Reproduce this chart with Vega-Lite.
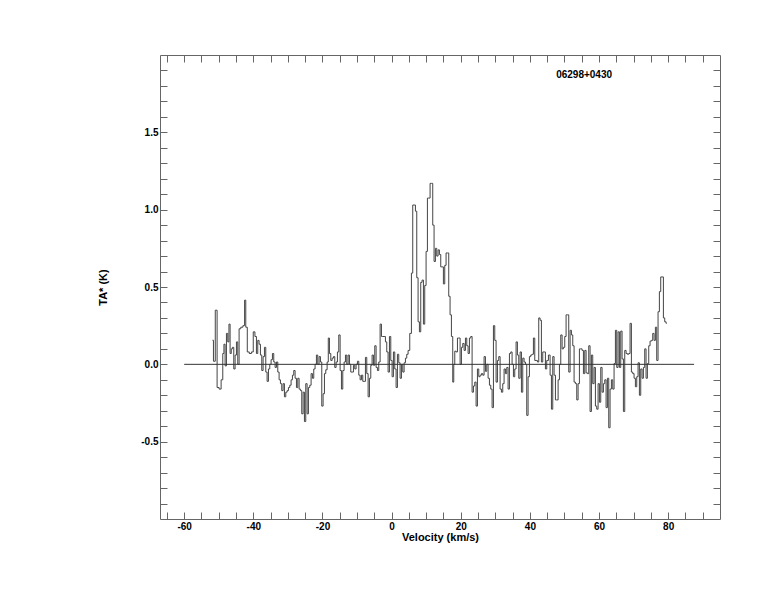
{
  "$schema": "https://vega.github.io/schema/vega-lite/v6.json",
  "width": 560,
  "height": 464,
  "autosize": "none",
  "padding": {"left": 160, "top": 55, "right": 54, "bottom": 93},
  "background": "white",
  "config": {
    "view": {"stroke": "#666", "strokeWidth": 1},
    "font": "Liberation Sans",
    "axis": {
      "grid": false, "domain": false, "tickColor": "#666", "tickSize": -7, "tickWidth": 1,
      "labelFont": "Liberation Sans", "labelFontWeight": "bold", "labelFontSize": 10, "labelColor": "#000",
      "titleFont": "Liberation Sans", "titleFontWeight": "bold", "titleFontSize": 11, "titleColor": "#000",
      "labelOverlap": false, "labelFlush": false
    }
  },
  "layer": [
    {
      "data": {"values": [
        {"v": -51.83, "t": 0.156}, {"v": -51.25, "t": 0.02}, {"v": -50.77, "t": 0.35}, {"v": -50.19, "t": -0.15},
        {"v": -49.61, "t": -0.16}, {"v": -49.03, "t": -0.10}, {"v": -48.65, "t": 0.07}, {"v": -48.36, "t": 0.13},
        {"v": -47.97, "t": -0.01}, {"v": -47.59, "t": 0.20}, {"v": -47.20, "t": 0.145}, {"v": -46.91, "t": 0.26},
        {"v": -46.53, "t": 0.07}, {"v": -46.24, "t": 0.10}, {"v": -45.85, "t": 0.11}, {"v": -45.47, "t": -0.03},
        {"v": -45.08, "t": 0.06}, {"v": -44.69, "t": 0.145}, {"v": -44.31, "t": 0.0}, {"v": -43.92, "t": 0.23},
        {"v": -43.35, "t": 0.24}, {"v": -42.67, "t": 0.25}, {"v": -42.38, "t": 0.415}, {"v": -41.99, "t": 0.24},
        {"v": -41.51, "t": 0.08}, {"v": -40.84, "t": 0.07}, {"v": -40.26, "t": 0.08}, {"v": -39.78, "t": 0.21},
        {"v": -39.30, "t": 0.18}, {"v": -38.91, "t": 0.07}, {"v": -38.53, "t": 0.155}, {"v": -38.14, "t": 0.13},
        {"v": -37.75, "t": 0.06}, {"v": -37.37, "t": -0.04}, {"v": -36.98, "t": 0.05}, {"v": -36.59, "t": 0.11},
        {"v": -36.21, "t": -0.05}, {"v": -35.82, "t": -0.11}, {"v": -35.44, "t": -0.03}, {"v": -35.05, "t": 0.0},
        {"v": -34.67, "t": 0.03}, {"v": -34.28, "t": 0.07}, {"v": -33.90, "t": 0.015}, {"v": -33.51, "t": -0.02},
        {"v": -33.12, "t": 0.015}, {"v": -32.74, "t": -0.05}, {"v": -32.35, "t": -0.10}, {"v": -31.97, "t": -0.125},
        {"v": -31.58, "t": -0.17}, {"v": -31.20, "t": -0.125}, {"v": -30.81, "t": -0.21}, {"v": -30.42, "t": -0.18},
        {"v": -30.04, "t": -0.17}, {"v": -29.65, "t": -0.15}, {"v": -29.27, "t": -0.135}, {"v": -28.88, "t": -0.10},
        {"v": -28.50, "t": -0.07}, {"v": -28.11, "t": -0.04}, {"v": -27.72, "t": -0.09}, {"v": -27.34, "t": -0.15},
        {"v": -26.95, "t": -0.09}, {"v": -26.57, "t": -0.16}, {"v": -26.18, "t": -0.17}, {"v": -25.80, "t": -0.32},
        {"v": -25.41, "t": -0.18}, {"v": -25.03, "t": -0.37}, {"v": -24.64, "t": -0.125}, {"v": -24.25, "t": -0.32},
        {"v": -23.87, "t": -0.15}, {"v": -23.48, "t": -0.135}, {"v": -23.10, "t": -0.06}, {"v": -22.71, "t": -0.09},
        {"v": -22.33, "t": -0.03}, {"v": -21.94, "t": 0.0}, {"v": -21.56, "t": 0.06}, {"v": -21.17, "t": 0.0},
        {"v": -20.79, "t": 0.05}, {"v": -20.39, "t": 0.015}, {"v": -20.01, "t": -0.27}, {"v": -19.62, "t": -0.19},
        {"v": -19.24, "t": -0.06}, {"v": -18.85, "t": -0.035}, {"v": -18.46, "t": 0.015}, {"v": -18.17, "t": 0.17},
        {"v": -17.79, "t": 0.07}, {"v": -17.40, "t": 0.025}, {"v": -17.02, "t": 0.04}, {"v": -16.63, "t": 0.05},
        {"v": -16.25, "t": -0.02}, {"v": -15.86, "t": 0.015}, {"v": -15.48, "t": 0.08}, {"v": -15.09, "t": 0.19},
        {"v": -14.70, "t": -0.04}, {"v": -14.32, "t": -0.16}, {"v": -13.93, "t": -0.04}, {"v": -13.55, "t": 0.015},
        {"v": -13.16, "t": 0.06}, {"v": -12.78, "t": 0.0}, {"v": -12.39, "t": 0.06}, {"v": -12.00, "t": 0.0},
        {"v": -11.62, "t": -0.05}, {"v": -11.23, "t": -0.05}, {"v": -10.85, "t": -0.006}, {"v": -10.46, "t": -0.03},
        {"v": -10.08, "t": 0.0}, {"v": -9.69, "t": 0.02}, {"v": -9.30, "t": -0.07}, {"v": -8.92, "t": -0.10},
        {"v": -8.53, "t": -0.07}, {"v": -8.15, "t": -0.11}, {"v": -7.76, "t": -0.11}, {"v": -7.38, "t": 0.045},
        {"v": -6.99, "t": -0.06}, {"v": -6.60, "t": -0.21}, {"v": -6.22, "t": -0.09}, {"v": -5.83, "t": -0.006},
        {"v": -5.45, "t": 0.06}, {"v": -5.06, "t": -0.006}, {"v": -4.68, "t": 0.12}, {"v": -4.29, "t": -0.02},
        {"v": -3.91, "t": -0.04}, {"v": -3.52, "t": 0.015}, {"v": -3.13, "t": 0.26}, {"v": -2.75, "t": 0.18},
        {"v": -2.36, "t": 0.18}, {"v": -1.98, "t": 0.18}, {"v": -1.59, "t": 0.145}, {"v": -1.21, "t": 0.08},
        {"v": -0.82, "t": -0.05}, {"v": -0.43, "t": 0.18}, {"v": -0.05, "t": 0.025}, {"v": 0.34, "t": -0.08},
        {"v": 0.72, "t": 0.08}, {"v": 1.11, "t": -0.03}, {"v": 1.49, "t": -0.15}, {"v": 1.88, "t": 0.065},
        {"v": 2.26, "t": 0.01}, {"v": 2.65, "t": -0.09}, {"v": 3.04, "t": 0.0}, {"v": 3.42, "t": -0.05},
        {"v": 3.81, "t": 0.01}, {"v": 4.19, "t": 0.04}, {"v": 4.58, "t": 0.065}, {"v": 4.96, "t": 0.09},
        {"v": 5.54, "t": 0.2}, {"v": 5.92, "t": 0.59}, {"v": 6.31, "t": 1.03}, {"v": 6.70, "t": 1.03},
        {"v": 7.08, "t": 0.99}, {"v": 7.47, "t": 0.56}, {"v": 7.85, "t": 0.275}, {"v": 8.24, "t": 0.21},
        {"v": 8.62, "t": 0.53}, {"v": 9.01, "t": 0.545}, {"v": 9.39, "t": 0.26}, {"v": 9.78, "t": 0.51},
        {"v": 10.17, "t": 0.73}, {"v": 10.55, "t": 1.075}, {"v": 10.94, "t": 1.075}, {"v": 11.32, "t": 1.17},
        {"v": 11.71, "t": 1.17}, {"v": 12.09, "t": 0.90}, {"v": 12.48, "t": 0.665}, {"v": 12.87, "t": 0.75},
        {"v": 13.25, "t": 0.70}, {"v": 13.64, "t": 0.74}, {"v": 14.02, "t": 0.71}, {"v": 14.41, "t": 0.63},
        {"v": 14.79, "t": 0.63}, {"v": 15.18, "t": 0.52}, {"v": 15.56, "t": 0.64}, {"v": 15.95, "t": 0.72},
        {"v": 16.34, "t": 0.72}, {"v": 16.72, "t": 0.44}, {"v": 17.11, "t": 0.32}, {"v": 17.49, "t": 0.18},
        {"v": 17.88, "t": -0.115}, {"v": 18.08, "t": 0.0}, {"v": 18.47, "t": 0.085}, {"v": 18.85, "t": 0.08},
        {"v": 19.24, "t": 0.17}, {"v": 19.62, "t": 0.17}, {"v": 20.01, "t": 0.0}, {"v": 20.39, "t": 0.11},
        {"v": 20.78, "t": 0.135}, {"v": 21.17, "t": 0.09}, {"v": 21.55, "t": 0.17}, {"v": 21.94, "t": 0.12},
        {"v": 22.32, "t": 0.07}, {"v": 22.71, "t": 0.17}, {"v": 23.09, "t": 0.18}, {"v": 23.48, "t": -0.18},
        {"v": 23.87, "t": -0.14}, {"v": 24.25, "t": -0.115}, {"v": 24.64, "t": -0.27}, {"v": 25.02, "t": -0.03},
        {"v": 25.41, "t": -0.08}, {"v": 25.79, "t": -0.07}, {"v": 26.18, "t": -0.06}, {"v": 26.56, "t": -0.07},
        {"v": 26.95, "t": 0.05}, {"v": 27.34, "t": -0.045}, {"v": 27.72, "t": 0.0}, {"v": 28.11, "t": -0.09},
        {"v": 28.49, "t": -0.135}, {"v": 28.88, "t": -0.16}, {"v": 29.26, "t": -0.28}, {"v": 29.65, "t": 0.25},
        {"v": 30.03, "t": 0.155}, {"v": 30.42, "t": -0.115}, {"v": 30.81, "t": 0.025}, {"v": 31.19, "t": 0.05},
        {"v": 31.58, "t": -0.16}, {"v": 31.96, "t": -0.18}, {"v": 32.35, "t": -0.125}, {"v": 32.73, "t": -0.03},
        {"v": 33.12, "t": -0.06}, {"v": 33.50, "t": -0.02}, {"v": 33.89, "t": -0.16}, {"v": 34.28, "t": 0.07},
        {"v": 34.66, "t": 0.08}, {"v": 35.05, "t": 0.0}, {"v": 35.43, "t": -0.08}, {"v": 35.82, "t": -0.03},
        {"v": 36.20, "t": 0.145}, {"v": 36.59, "t": 0.06}, {"v": 36.98, "t": -0.09}, {"v": 37.36, "t": 0.08},
        {"v": 37.75, "t": -0.18}, {"v": 38.13, "t": 0.04}, {"v": 38.52, "t": 0.015}, {"v": 38.90, "t": 0.0},
        {"v": 39.29, "t": -0.33}, {"v": 39.67, "t": -0.08}, {"v": 40.06, "t": 0.05}, {"v": 40.45, "t": 0.06},
        {"v": 40.83, "t": 0.065}, {"v": 41.22, "t": 0.17}, {"v": 41.60, "t": 0.025}, {"v": 41.99, "t": 0.025},
        {"v": 42.37, "t": 0.015}, {"v": 42.76, "t": 0.30}, {"v": 43.14, "t": 0.285}, {"v": 43.53, "t": 0.015},
        {"v": 43.92, "t": 0.08}, {"v": 44.30, "t": 0.08}, {"v": 44.69, "t": -0.03}, {"v": 45.07, "t": 0.025},
        {"v": 45.66, "t": 0.06}, {"v": 46.04, "t": -0.07}, {"v": 46.43, "t": -0.29}, {"v": 46.81, "t": 0.05},
        {"v": 47.20, "t": -0.07}, {"v": 47.58, "t": -0.23}, {"v": 47.97, "t": -0.23}, {"v": 48.36, "t": -0.10},
        {"v": 48.74, "t": 0.0}, {"v": 49.13, "t": 0.19}, {"v": 49.51, "t": 0.10}, {"v": 49.90, "t": 0.11},
        {"v": 50.28, "t": 0.18}, {"v": 50.67, "t": 0.32}, {"v": 51.05, "t": 0.32}, {"v": 51.44, "t": -0.05},
        {"v": 51.83, "t": 0.22}, {"v": 52.21, "t": 0.19}, {"v": 52.60, "t": 0.12}, {"v": 52.98, "t": -0.115},
        {"v": 53.37, "t": -0.125}, {"v": 53.75, "t": -0.23}, {"v": 54.14, "t": -0.125}, {"v": 54.52, "t": 0.10},
        {"v": 54.91, "t": 0.10}, {"v": 55.30, "t": 0.09}, {"v": 55.68, "t": -0.06}, {"v": 56.07, "t": 0.09},
        {"v": 56.45, "t": -0.055}, {"v": 56.84, "t": -0.06}, {"v": 57.22, "t": 0.12}, {"v": 57.61, "t": -0.305},
        {"v": 57.99, "t": 0.06}, {"v": 58.38, "t": -0.125}, {"v": 58.77, "t": -0.02}, {"v": 59.15, "t": -0.27},
        {"v": 59.54, "t": -0.29}, {"v": 59.92, "t": -0.125}, {"v": 60.31, "t": -0.245}, {"v": 60.69, "t": -0.02},
        {"v": 61.08, "t": -0.18}, {"v": 61.47, "t": -0.125}, {"v": 61.85, "t": -0.10}, {"v": 62.24, "t": -0.28},
        {"v": 62.62, "t": -0.09}, {"v": 63.01, "t": -0.41}, {"v": 63.39, "t": -0.16}, {"v": 63.78, "t": -0.10},
        {"v": 64.16, "t": -0.16}, {"v": 64.55, "t": 0.005}, {"v": 64.94, "t": 0.22}, {"v": 65.32, "t": -0.02},
        {"v": 65.71, "t": 0.21}, {"v": 66.09, "t": -0.02}, {"v": 66.48, "t": 0.215}, {"v": 66.86, "t": 0.035},
        {"v": 67.25, "t": -0.305}, {"v": 67.64, "t": 0.09}, {"v": 68.02, "t": 0.07}, {"v": 68.41, "t": 0.065},
        {"v": 68.79, "t": 0.07}, {"v": 69.18, "t": 0.265}, {"v": 69.56, "t": -0.05}, {"v": 69.95, "t": -0.06},
        {"v": 70.33, "t": -0.09}, {"v": 70.72, "t": -0.145}, {"v": 71.11, "t": -0.08}, {"v": 71.49, "t": 0.01},
        {"v": 71.88, "t": -0.20}, {"v": 72.26, "t": -0.03}, {"v": 72.65, "t": -0.09}, {"v": 73.03, "t": -0.02},
        {"v": 73.42, "t": 0.10}, {"v": 73.80, "t": -0.09}, {"v": 74.19, "t": 0.005}, {"v": 74.58, "t": 0.12},
        {"v": 74.96, "t": 0.15}, {"v": 75.35, "t": 0.155}, {"v": 75.73, "t": 0.20}, {"v": 76.12, "t": 0.155},
        {"v": 76.50, "t": 0.24}, {"v": 76.89, "t": 0.025}, {"v": 77.27, "t": 0.34}, {"v": 77.66, "t": 0.47},
        {"v": 78.05, "t": 0.565}, {"v": 78.43, "t": 0.565}, {"v": 78.82, "t": 0.30}, {"v": 79.20, "t": 0.275},
        {"v": 79.59, "t": 0.265}
      ]},
      "mark": {"type": "line", "interpolate": "step", "color": "#444", "strokeWidth": 1},
      "encoding": {
        "x": {
          "field": "v", "type": "quantitative",
          "scale": {"domain": [-67, 95], "nice": false, "zero": false},
          "axis": {
            "orient": "bottom",
            "values": [-65, -60, -55, -50, -45, -40, -35, -30, -25, -20, -15, -10, -5, 0, 5, 10, 15, 20, 25, 30, 35, 40, 45, 50, 55, 60, 65, 70, 75, 80, 85, 90],
            "labelExpr": "datum.value % 20 === 0 ? replace(datum.label, '\u2212', '-') : ''",
            "labelPadding": 9,
            "title": "Velocity (km/s)",
            "titleX": 280, "titleY": 18, "titleAlign": "center", "titleBaseline": "middle"
          }
        },
        "y": {
          "field": "t", "type": "quantitative",
          "scale": {"domain": [-1, 2], "nice": false, "zero": false},
          "axis": {
            "orient": "left",
            "values": [-0.9, -0.8, -0.7, -0.6, -0.5, -0.4, -0.3, -0.2, -0.1, 0, 0.1, 0.2, 0.3, 0.4, 0.5, 0.6, 0.7, 0.8, 0.9, 1.0, 1.1, 1.2, 1.3, 1.4, 1.5, 1.6, 1.7, 1.8, 1.9],
            "labelExpr": "abs(datum.value * 2 - round(datum.value * 2)) < 0.001 ? replace(format(datum.value, '.1f'), '\u2212', '-') : ''",
            "labelPadding": 9,
            "title": "TA* (K)",
            "titleX": -57, "titleY": 232, "titleAngle": -90, "titleAlign": "center", "titleBaseline": "middle"
          }
        }
      }
    },
    {
      "data": {"values": [{"a": -60, "b": 87.5, "z": 0}]},
      "mark": {"type": "rule", "color": "#333", "strokeWidth": 1},
      "encoding": {
        "x": {
          "field": "a", "type": "quantitative",
          "axis": {
            "orient": "top", "labels": false, "title": null,
            "values": [-65, -60, -55, -50, -45, -40, -35, -30, -25, -20, -15, -10, -5, 0, 5, 10, 15, 20, 25, 30, 35, 40, 45, 50, 55, 60, 65, 70, 75, 80, 85, 90]
          }
        },
        "x2": {"field": "b"},
        "y": {
          "field": "z", "type": "quantitative",
          "axis": {
            "orient": "right", "labels": false, "title": null,
            "values": [-0.9, -0.8, -0.7, -0.6, -0.5, -0.4, -0.3, -0.2, -0.1, 0, 0.1, 0.2, 0.3, 0.4, 0.5, 0.6, 0.7, 0.8, 0.9, 1.0, 1.1, 1.2, 1.3, 1.4, 1.5, 1.6, 1.7, 1.8, 1.9]
          }
        }
      }
    },
    {
      "data": {"values": [{"v": 47.6, "t": 1.87, "label": "06298+0430"}]},
      "mark": {"type": "text", "align": "left", "baseline": "middle", "fontWeight": "bold", "fontSize": 10, "font": "Liberation Sans", "color": "#000"},
      "encoding": {
        "x": {"field": "v", "type": "quantitative", "axis": null},
        "y": {"field": "t", "type": "quantitative", "axis": null},
        "text": {"field": "label"}
      }
    }
  ],
  "resolve": {"axis": {"x": "independent", "y": "independent"}}
}
